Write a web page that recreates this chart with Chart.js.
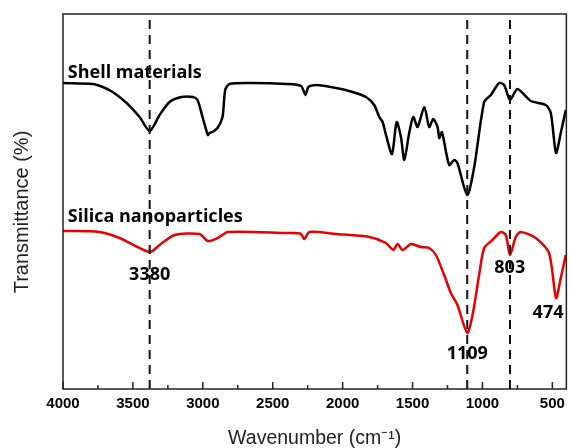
<!doctype html>
<html lang="en">
<head>
  <meta charset="utf-8">
  <title>FTIR spectra</title>
  <script src="https://cdn.jsdelivr.net/npm/chart.js@4.4.1/dist/chart.umd.min.js"></script>
  <style>
    body { margin: 0; background: #fff; }
    .grafico { width: 571px; height: 448px; }
  </style>
</head>
<body>
<div class="grafico">
  <canvas id="myChart"></canvas>
</div>

<script>
// spectra (wavenumber in cm-1, transmittance in arbitrary units)
var shellWn = [4000, 3786, 3716, 3645, 3545, 3452, 3380, 3309, 3238, 3154, 3071, 3038, 3000, 2964, 2952, 2931, 2895, 2859, 2840, 2809,
               2645, 2404, 2297, 2266, 2245, 2190, 2047, 1929, 1833, 1774, 1738, 1714, 1690, 1647, 1614, 1583, 1559, 1524, 1495, 1464,
               1416, 1381, 1352, 1321, 1309, 1290, 1238, 1202, 1179, 1109, 1059, 988, 940, 881, 845, 803, 750, 654, 547, 511,
               474, 440, 404];
var shellT  = [306, 305, 302, 297, 286, 272, 258, 274, 287, 292, 292, 289, 271, 254, 256, 257, 261, 272, 299, 305,
               306, 305, 303, 294, 302, 304, 301, 297, 292, 284, 272, 267, 254, 235, 267, 252, 229, 256, 272, 262,
               282, 262, 270, 262, 251, 257, 224, 229, 226, 194, 222, 287, 294, 306, 304, 289, 300, 288, 284, 276,
               236, 256, 279];

var silicaWn = [4000, 3738, 3595, 3380, 3309, 3202, 3024, 2964, 2893, 2821, 2404, 2302, 2274, 2238, 2047, 1809, 1690, 1638, 1607, 1571,
                1511, 1440, 1381, 1333, 1274, 1226, 1179, 1109, 1071, 1024, 988, 929, 869, 833, 803, 762, 726, 619, 524, 474,
                440, 404];
var silicaT  = [158, 157, 151, 137, 144, 154, 155, 148, 151, 157, 156, 155.5, 150, 157, 155, 152, 146, 139, 145, 139,
                145, 142, 141, 134, 114, 96, 84, 56, 74, 114, 141, 149, 157, 154, 134, 152, 157, 151, 136, 91,
                111, 134];

var seriesNames = ['Shell materials', 'Silica nanoparticles'];
var markedPeaks = [3380, 1109, 803];
var peakLabels = ['3380', '1109', '803', '474'];
var peakLabelWn = [3380, 1109, 805, 531];
var peakLabelT = [114, 35, 121, 76];
var nameWn = [3966, 3966];
var nameT = [311, 167];
var tickValues = [4000, 3750, 3500, 3250, 3000, 2750, 2500, 2250, 2000, 1750, 1500, 1250, 1000, 750, 500];
var yTitle = 'Transmittance (%)';

const toPoints = (xs, ys) => xs.map((x, i) => ({x: x, y: ys[i]}));

var datasets = [];
markedPeaks.forEach(function(w) {
  datasets.push({
    data: [{x: w, y: 0}, {x: w, y: 375}],
    borderColor: '#111',
    borderWidth: 2,
    borderDash: [9, 6],
    pointRadius: 0,
    order: 0,
  });
});
datasets.push({
  label: seriesNames[0],
  data: toPoints(shellWn, shellT),
  borderColor: '#000',
  borderWidth: 2.5,
  pointRadius: 0,
  tension: 0.25,
  order: 1,
});
datasets.push({
  label: seriesNames[1],
  data: toPoints(silicaWn, silicaT),
  borderColor: '#e60000',
  borderWidth: 2.5,
  pointRadius: 0,
  tension: 0.25,
  order: 1,
});

// text labels + frame + inward ticks
const decor = {
  id: 'decor',
  beforeDatasetsDraw(chart) {
    const c = chart.ctx, xs = chart.scales.x, ys = chart.scales.y;
    c.save();
    c.fillStyle = '#000';
    c.font = 'bold 18px "Open Sans"';
    c.textAlign = 'left';
    c.textBaseline = 'alphabetic';
    seriesNames.forEach(function(n, i) {
      c.fillText(n, xs.getPixelForValue(nameWn[i]), ys.getPixelForValue(nameT[i]));
    });
    c.textAlign = 'center';
    c.textBaseline = 'middle';
    peakLabels.forEach(function(t, i) {
      c.fillText(t, xs.getPixelForValue(peakLabelWn[i]), ys.getPixelForValue(peakLabelT[i]));
    });
    // y title, sits a little below the middle of the axis in the original
    c.fillStyle = '#222';
    c.font = '20px "Liberation Sans"';
    c.translate(22, 212);
    c.rotate(-Math.PI / 2);
    c.fillText(yTitle, 0, 0);
    c.restore();
  },
  afterDraw(chart) {
    const c = chart.ctx, a = chart.chartArea, xs = chart.scales.x;
    c.save();
    c.strokeStyle = '#222';
    c.lineWidth = 1.5;
    c.strokeRect(a.left, a.top, a.right - a.left, a.bottom - a.top);
    c.beginPath();
    tickValues.forEach(function(v) {
      const px = xs.getPixelForValue(v);
      const len = v % 500 === 0 ? 7 : 4;
      c.moveTo(px, a.bottom);
      c.lineTo(px, a.bottom - len);
    });
    c.stroke();
    c.restore();
  }
};

var ctx = document.getElementById('myChart').getContext('2d');
var myChart = new Chart(ctx, {
  type: 'line',
  data: { datasets: datasets },
  plugins: [decor],
  options: {
    responsive: true,
    maintainAspectRatio: false,
    animation: false,
    layout: { padding: { top: 14, right: 4, left: 0, bottom: 0 } },
    scales: {
      x: {
        type: 'linear',
        reverse: true,
        min: 400,
        max: 4000,
        afterBuildTicks: (s) => { s.ticks = tickValues.map(v => ({value: v})); },
        afterFit: (s) => { s.height = 59; },
        grid: { display: false, drawTicks: false },
        border: { display: false },
        ticks: {
          padding: 6,
          autoSkip: false,
          maxRotation: 0,
          color: '#000',
          font: { family: '"Liberation Sans"', size: 15, weight: 'bold' },
          callback: (v) => (v % 500 === 0 ? String(v) : ''),
        },
        title: {
          display: true,
          text: 'Wavenumber (cm\u207B\u00B9)',
          color: '#222',
          padding: 0,
          font: { family: '"Liberation Sans"', size: 19.5, lineHeight: 1 },
        },
      },
      y: {
        min: 0,
        max: 375,
        afterFit: (s) => { s.width = 63; },
        grid: { display: false, drawTicks: false },
        border: { display: false },
        ticks: { display: false },
        title: { display: false },
      },
    },
    plugins: {
      legend: { display: false },
      tooltip: { enabled: false },
    },
  },
});
</script>
</body>
</html>
